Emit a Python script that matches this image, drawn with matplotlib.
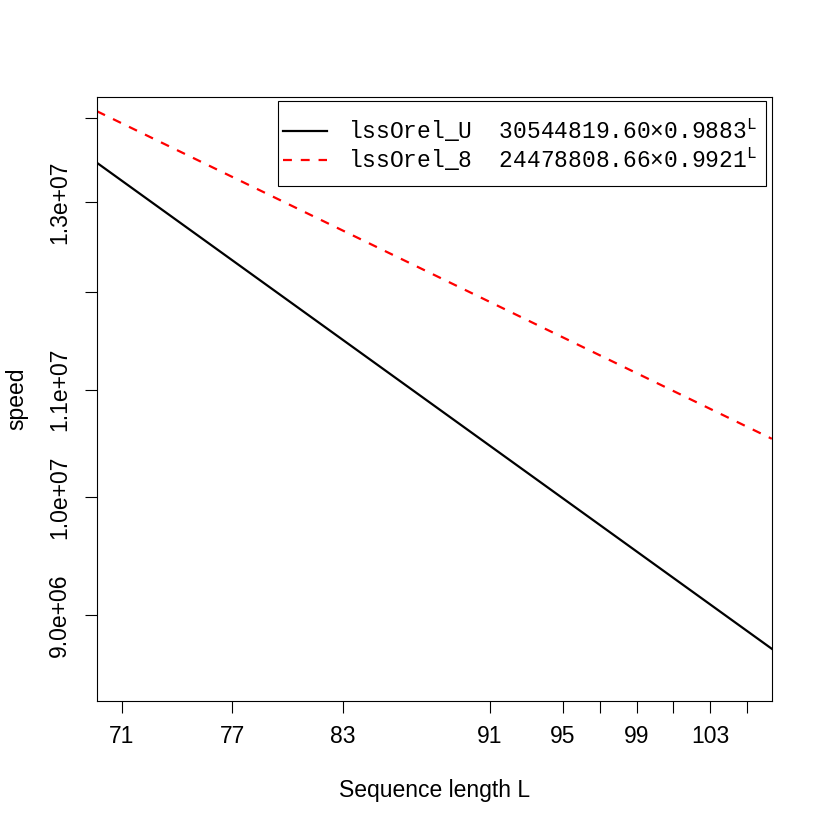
import numpy as np
import matplotlib
matplotlib.use("Agg")
import matplotlib.pyplot as plt
from matplotlib.patches import Rectangle

plt.rcParams.update({
    "font.family": "Liberation Sans",
    "font.size": 16.5,
    "mathtext.fontset": "custom",
    "mathtext.tt": "Liberation Mono",
    "mathtext.rm": "Liberation Mono",
})

# sequence lengths used as x ticks
lengths = [71, 77, 83, 91, 95, 97, 99, 101, 103, 105]
length_labels = ["71", "77", "83", "91", "95", "", "99", "", "103", ""]

# exponential fits shown in the legend: speed = a * b**L
series = ["lssOrel_U", "lssOrel_8"]
fit_a = [30544819.60, 24478808.66]
fit_b = [0.9883, 0.9921]
colors = ["black", "red"]
styles = ["-", "--"]

y_ticks = [9.0e6, 1.0e7, 1.1e7, 1.2e7, 1.3e7, 1.4e7]
y_labels = ["9.0e+06", "1.0e+07", "1.1e+07", "", "1.3e+07", ""]
y_range = (8.34e6, 1.427e7)

fig = plt.figure(figsize=(8.22, 8.22), dpi=100)
ax = fig.add_axes([0.118, 0.1472, 0.821, 0.7348])

# R-style 4% padding of the x range
span = lengths[-1] - lengths[0]
xlo, xhi = lengths[0] - 0.04 * span, lengths[-1] + 0.04 * span
L = np.linspace(xlo, xhi, 50)

for name, a, b, c, ls in zip(series, fit_a, fit_b, colors, styles):
    lab = f"{name}  {a:.2f}\u00d7{b:.4f}" + r"$^{\mathtt{L}}$"
    line, = ax.plot(L, a * b ** L, color=c, ls=ls, lw=1.6, label=lab)
    if ls == "--":
        line.set_dashes((4, 4))

ax.set_yscale("log")
ax.set_xlim(xlo, xhi)
ax.set_ylim(*y_range)
ax.set_xticks(lengths)
ax.set_xticklabels(length_labels)
ax.set_yticks(y_ticks)
ax.set_yticklabels(y_labels, rotation=90, va="center")
ax.yaxis.set_minor_locator(matplotlib.ticker.NullLocator())
ax.tick_params(length=8.5, width=0.8, pad=9)
ax.tick_params(axis="y", pad=10)
for s in ax.spines.values():
    s.set_linewidth(0.8)

ax.set_xlabel("Sequence length L", labelpad=22)
ax.set_ylabel("speed", labelpad=14)

# legend box drawn by hand, R-style (tight sides, roomy top/bottom)
ax.add_patch(Rectangle((278 / 822, 1 - 186 / 822), 488 / 822, 85 / 822,
                       transform=fig.transFigure, facecolor="white",
                       edgecolor="black", lw=0.8, zorder=4, clip_on=False))
leg = ax.legend(loc="upper left", bbox_to_anchor=(283 / 822, 1 - 117 / 822),
                bbox_transform=fig.transFigure,
                prop={"family": "Liberation Mono", "size": 16.5},
                frameon=False, borderaxespad=0, borderpad=0,
                handlelength=1.9, handletextpad=0.95, labelspacing=0.05)
leg.set_zorder(5)

fig.savefig("out.png", dpi=100)
